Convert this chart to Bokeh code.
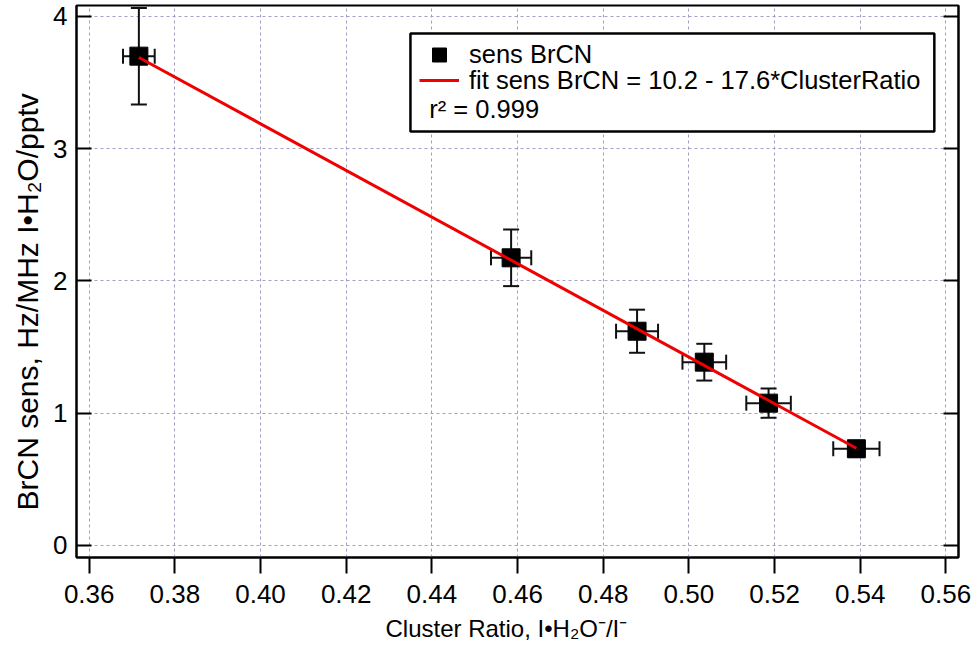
from bokeh.plotting import figure
from bokeh.models import (ColumnDataSource, Whisker, TeeHead, FixedTicker, LinearAxis,
                          Legend, LegendItem, BoxAnnotation, Label, Title)
from bokeh.embed import file_html
from bokeh.resources import INLINE

# ---- data ----
cluster_ratio = [0.3716, 0.4585, 0.4879, 0.5036, 0.5186, 0.5391]
cluster_ratio_err = [0.0037, 0.0047, 0.0049, 0.0051, 0.0052, 0.0054]
sens_brcn = [3.70, 2.175, 1.620, 1.386, 1.076, 0.731]
sens_brcn_err = [0.365, 0.214, 0.163, 0.139, 0.111, 0.06]
fit_x = [0.3716, 0.5391]
fit_y = [3.69, 0.735]

x_ticks = [0.36, 0.38, 0.40, 0.42, 0.44, 0.46, 0.48, 0.50, 0.52, 0.54, 0.56]
x_tick_labels = ["0.36", "0.38", "0.40", "0.42", "0.44", "0.46", "0.48", "0.50", "0.52", "0.54", "0.56"]
y_ticks = [0, 1, 2, 3, 4]
y_tick_labels = ["0", "1", "2", "3", "4"]

legend_points = "sens BrCN"
legend_fit = "fit sens BrCN = 10.2 - 17.6*ClusterRatio"
r2_text = "r\u00b2 = 0.999"
x_label = "Cluster Ratio, I\u2022H\u2082O\u207b/I\u207b"
y_label = "BrCN sens, Hz/MHz I\u2022H\u2082O/pptv"

FONT = "Liberation Sans"
TICK_FS = "26px"
LEG_FS = "25.5px"

src = ColumnDataSource(dict(
    x=cluster_ratio,
    y=sens_brcn,
    xl=[a - b for a, b in zip(cluster_ratio, cluster_ratio_err)],
    xu=[a + b for a, b in zip(cluster_ratio, cluster_ratio_err)],
    yl=[a - b for a, b in zip(sens_brcn, sens_brcn_err)],
    yu=[a + b for a, b in zip(sens_brcn, sens_brcn_err)],
))
fit_src = ColumnDataSource(dict(x=fit_x, y=fit_y))

p = figure(width=974, height=651, x_range=(0.35704, 0.56294), y_range=(-0.091, 4.083),
           output_backend="svg", toolbar_location=None,
           min_border_left=76, min_border_right=16, min_border_top=5, min_border_bottom=94)
p.background_fill_color = "white"
p.border_fill_color = "white"
p.outline_line_color = "black"
p.outline_line_width = 2

# grid
for g in (p.xgrid, p.ygrid):
    g.grid_line_color = "#a0a0c4"
    g.grid_line_dash = "3 3"
    g.grid_line_width = 1
p.xgrid.ticker = FixedTicker(ticks=x_ticks)
p.ygrid.ticker = FixedTicker(ticks=y_ticks)

# x axis
xa = p.xaxis[0]
xa.ticker = FixedTicker(ticks=x_ticks)
xa.major_label_overrides = {t: l for t, l in zip(x_ticks, x_tick_labels)}
xa.major_tick_in = 0
xa.major_tick_out = 16
xa.minor_tick_line_color = None
xa.major_tick_line_width = 2
xa.axis_line_width = 2
xa.major_label_text_font = FONT
xa.major_label_text_font_size = TICK_FS
xa.major_label_text_color = "black"
xa.major_label_standoff = 11

# y axis
ya = p.yaxis[0]
ya.ticker = FixedTicker(ticks=y_ticks)
ya.major_label_overrides = {t: l for t, l in zip(y_ticks, y_tick_labels)}
ya.major_tick_in = 15
ya.major_tick_out = 0
ya.minor_tick_line_color = None
ya.major_tick_line_width = 2
ya.axis_line_width = 2
ya.major_label_text_font = FONT
ya.major_label_text_font_size = TICK_FS
ya.major_label_text_color = "black"
ya.major_label_standoff = 9

# mirrored right axis (ticks only)
ra = LinearAxis(ticker=FixedTicker(ticks=y_ticks), major_tick_in=15, major_tick_out=0,
                minor_tick_line_color=None, major_tick_line_width=2, axis_line_width=2,
                major_label_overrides={t: "" for t in y_ticks}, major_label_standoff=0)
p.add_layout(ra, "right")

# axis titles
p.add_layout(Title(text=x_label, align="left", offset=309, standoff=15,
                   text_font=FONT, text_font_size="24px", text_font_style="normal",
                   text_color="black"), "below")
p.add_layout(Title(text=y_label, align="left", offset=47, standoff=14,
                   text_font=FONT, text_font_size="30px", text_font_style="normal",
                   text_color="black"), "left")

# error bars
ex = Whisker(source=src, base="y", lower="xl", upper="xu", dimension="width",
             line_color="#111111", line_width=2,
             lower_head=TeeHead(size=15, line_width=2, line_color="#111111"),
             upper_head=TeeHead(size=15, line_width=2, line_color="#111111"))
ey = Whisker(source=src, base="x", lower="yl", upper="yu", dimension="height",
             line_color="#111111", line_width=2,
             lower_head=TeeHead(size=16, line_width=2, line_color="#111111"),
             upper_head=TeeHead(size=16, line_width=2, line_color="#111111"))
p.add_layout(ex)
p.add_layout(ey)

pts = p.scatter("x", "y", source=src, marker="square", size=18, fill_color="black",
                line_color="black")
fit = p.line("x", "y", source=fit_src, line_color="#f00000", line_width=3)

# legend box
box = BoxAnnotation(left=0.4350, right=0.5573, top=3.871, bottom=3.130,
                    fill_color="white", fill_alpha=1.0, line_color="black", line_alpha=1.0,
                    line_width=2.5, level="annotation")
p.add_layout(box)

leg1 = Legend(items=[LegendItem(label=legend_points, renderers=[pts])],
              location=(343, 485), glyph_width=40, glyph_height=35,
              label_standoff=10, label_text_font=FONT, label_text_font_size=LEG_FS,
              label_text_color="black", label_height=26,
              padding=0, margin=0, border_line_alpha=0, background_fill_alpha=0)
leg2 = Legend(items=[LegendItem(label=legend_fit, renderers=[fit])],
              location=(343, 462), glyph_width=40, glyph_height=30,
              label_standoff=10, label_text_font=FONT, label_text_font_size=LEG_FS,
              label_text_color="black", label_height=26,
              padding=0, margin=0, border_line_alpha=0, background_fill_alpha=0)
p.add_layout(leg1, "center")
p.add_layout(leg2, "center")

r2 = Label(x=0.4394, y=3.304, text=r2_text, text_font=FONT, text_font_size=LEG_FS,
           text_color="black", text_baseline="middle", text_align="left")
p.add_layout(r2)

open("out.html", "w").write(file_html(p, INLINE))
